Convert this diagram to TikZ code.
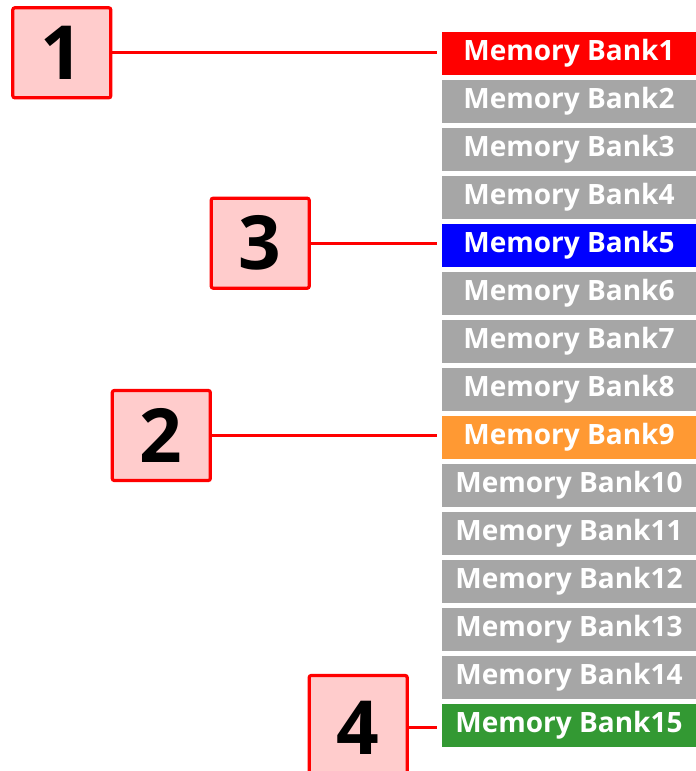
\documentclass[tikz,border=0pt]{standalone}
\usepackage{fontspec}
\setsansfont{Open Sans}
\usepackage{xcolor}
\usepackage{tikz}
\usetikzlibrary{positioning}

\definecolor{bankgray}{HTML}{A6A6A6}
\definecolor{bankred}{HTML}{FF0000}
\definecolor{bankblue}{HTML}{0000FF}
\definecolor{bankorange}{HTML}{FF9933}
\definecolor{bankgreen}{HTML}{339933}
\definecolor{tagfill}{HTML}{FFCCCC}

\tikzset{
	bank/.style={rectangle, minimum width=190.5pt, minimum height=32.5pt, inner sep=0pt,
		text=white, font=\sffamily\bfseries\fontsize{21}{24}\selectfont},
	tag/.style={rectangle, draw=red, fill=tagfill, line width=2.4pt, rounded corners=1.5pt,
		minimum width=73.5pt, minimum height=67.5pt, inner sep=0pt,
		font=\sffamily\bfseries\fontsize{56}{60}\selectfont},
	link/.style={draw=red, line width=2.3pt, shorten >=3.75pt}
}

\begin{document}
\begin{tikzpicture}[x=0.75pt,y=-0.75pt]
		\useasboundingbox (0,0) rectangle (696,771);
		\clip (0,0) rectangle (696,771);
		
		% the column of memory banks
		\foreach \i/\c in {1/bankred,2/bankgray,3/bankgray,4/bankgray,5/bankblue,6/bankgray,7/bankgray,8/bankgray,9/bankorange,10/bankgray,11/bankgray,12/bankgray,13/bankgray,14/bankgray,15/bankgreen} {
			\node[bank, fill=\c] (bank\i) at (569, {53.4+(\i-1)*48}) {Memory Bank\i};
		}
		
		% numbered tags (the last one runs off the bottom)
		\node[tag] (tag1) at (61.8, 52.8) {1};
		\node[tag] (tag3) at (260.2, 243.2) {3};
		\node[tag] (tag2) at (161.3, 435.5) {2};
		\node[tag, minimum height=78pt] (tag4) at (358.2, 727.5) {4};
		
		% connectors
		\draw[link] (tag1.east) -- (tag1.east -| bank1.west);
		\draw[link] (tag3.east) -- (tag3.east -| bank5.west);
		\draw[link] (tag2.east) -- (tag2.east -| bank9.west);
		\draw[link] (tag4.east) -- (tag4.east -| bank15.west);
	\end{tikzpicture}
\end{document}
